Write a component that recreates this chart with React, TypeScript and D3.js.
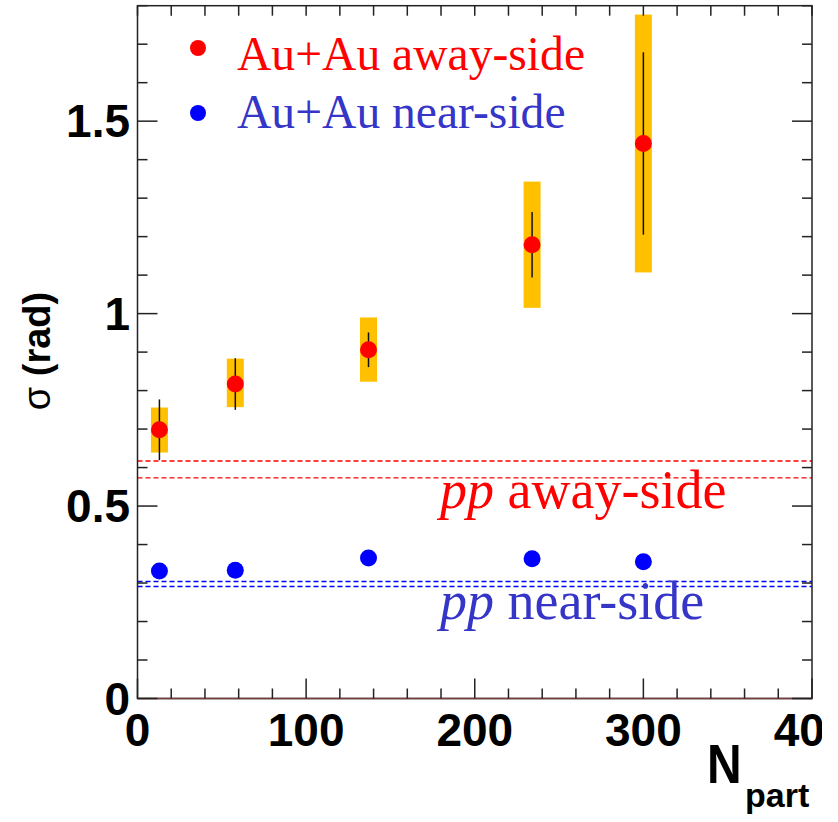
import React from "react";
import * as d3 from "d3";

// Centrality (number of participants)
const npart = [13, 58, 137, 234, 300];
// Au+Au away-side width and its uncertainties
const awaySigma = [0.698, 0.817, 0.906, 1.179, 1.442];
const awayStat = [0.079, 0.067, 0.045, 0.085, 0.237];
const awaySysLow = [0.059, 0.06, 0.083, 0.164, 0.335];
const awaySysHigh = [0.058, 0.066, 0.084, 0.164, 0.335];
// Au+Au near-side width
const nearSigma = [0.331, 0.333, 0.365, 0.363, 0.355];
// p+p reference bands (lower / upper edge)
const ppAway = [0.573, 0.617];
const ppNear = [0.291, 0.304];

const xTickLabels = ["0", "100", "200", "300", "400"];
const yTickLabels = ["0", "0.5", "1", "1.5"];
const legendLabels = ["Au+Au away-side", "Au+Au near-side"];

const W = 838;
const H = 822;
const left = 137.5;
const right = 812;
const top = 5.7;
const bottom = 698.5;

const RED = "#ff0000";
const BLUE = "#0000ff";
const BLUE_TEXT = "#3535c8";
const YELLOW = "#ffc000";
const AXIS = "#222";

export default function App() {
  const x = d3.scaleLinear().domain([0, 400]).range([left, right]);
  const y = d3.scaleLinear().domain([0, 1.8]).range([bottom, top]);

  const xMinor = d3.range(0, 401, 20);
  const yMinor = d3.range(0, 1.8001, 0.1).map((v) => +v.toFixed(2));
  const isMajorX = (v: number) => v % 100 === 0;
  const isMajorY = (v: number) => Math.abs(v * 2 - Math.round(v * 2)) < 1e-6;

  const sans = "'Liberation Sans', Arial, Helvetica, sans-serif";
  const serif = "'Liberation Serif', 'Times New Roman', serif";
  const boxW = 17;

  return (
    <svg
      width={W}
      height={H}
      style={{ position: "absolute", left: 0, top: 0, background: "#fff" }}
    >
      <defs>
        <clipPath id="canvasClip">
          <rect x={0} y={0} width={822} height={H} />
        </clipPath>
      </defs>

      {/* p+p reference lines */}
      {ppAway.map((v, i) => (
        <line key={"pa" + i} x1={left} x2={right} y1={y(v)} y2={y(v)}
          stroke={RED} strokeWidth={1.3} strokeDasharray="5,3" />
      ))}
      {ppNear.map((v, i) => (
        <line key={"pn" + i} x1={left} x2={right} y1={y(v)} y2={y(v)}
          stroke={BLUE} strokeWidth={1.3} strokeDasharray="5,3" />
      ))}

      {/* systematic boxes */}
      {npart.map((n, i) => (
        <rect key={"sys" + i}
          x={x(n) - boxW / 2}
          width={boxW}
          y={y(awaySigma[i] + awaySysHigh[i])}
          height={y(awaySigma[i] - awaySysLow[i]) - y(awaySigma[i] + awaySysHigh[i])}
          fill={YELLOW} />
      ))}
      {/* statistical error bars */}
      {npart.map((n, i) => (
        <line key={"stat" + i}
          x1={x(n)} x2={x(n)}
          y1={y(awaySigma[i] + awayStat[i])}
          y2={y(awaySigma[i] - awayStat[i])}
          stroke="#111" strokeWidth={1.5} />
      ))}
      {/* markers */}
      {npart.map((n, i) => (
        <circle key={"aw" + i} cx={x(n)} cy={y(awaySigma[i])} r={8.5} fill={RED} />
      ))}
      {npart.map((n, i) => (
        <circle key={"nr" + i} cx={x(n)} cy={y(nearSigma[i])} r={8.5} fill={BLUE} />
      ))}

      {/* frame */}
      <rect x={left} y={top} width={right - left} height={bottom - top}
        fill="none" stroke={AXIS} strokeWidth={1.5} />
      <line x1={left} x2={right} y1={bottom} y2={bottom} stroke="#7a3c3c" strokeWidth={1.6} />

      {/* x ticks: bottom and top */}
      {xMinor.map((v) => (
        <g key={"xt" + v}>
          <line x1={x(v)} x2={x(v)} y1={bottom} y2={bottom - (isMajorX(v) ? 20 : 10)}
            stroke={AXIS} strokeWidth={1.5} />
          <line x1={x(v)} x2={x(v)} y1={top} y2={top + 10}
            stroke={AXIS} strokeWidth={1.5} />
        </g>
      ))}
      {/* y ticks: left and right */}
      {yMinor.map((v) => (
        <g key={"yt" + v}>
          <line x1={left} x2={left + (isMajorY(v) ? 20 : 10)} y1={y(v)} y2={y(v)}
            stroke={AXIS} strokeWidth={1.5} />
          <line x1={right} x2={right - (isMajorY(v) ? 20 : 10)} y1={y(v)} y2={y(v)}
            stroke={AXIS} strokeWidth={1.5} />
        </g>
      ))}

      {/* tick labels */}
      <g clipPath="url(#canvasClip)">
        {xTickLabels.map((t) => (
          <text key={"xl" + t} x={x(+t)} y={746} textAnchor="middle"
            fontFamily={sans} fontWeight="bold" fontSize={46} fill="#000">{t}</text>
        ))}
      </g>
      {yTickLabels.map((t) => (
        <text key={"yl" + t} x={130} y={y(+t) + 16} textAnchor="end"
          fontFamily={sans} fontWeight="bold" fontSize={46} fill="#000">{t}</text>
      ))}

      {/* axis titles */}
      <g transform="translate(707,783) scale(1,1.15)">
        <text x={0} y={0} fontFamily={sans} fontWeight="bold" fontSize={48} fill="#000">N</text>
      </g>
      <text x={745} y={807} fontFamily={sans} fontWeight="bold" fontSize={34} fill="#000">part</text>
      <text transform="translate(50,351) rotate(-90)" textAnchor="middle"
        fontFamily={sans} fontSize={38} fill="#000">
        <tspan>σ </tspan>
        <tspan fontWeight="bold">(rad)</tspan>
      </text>

      {/* legend */}
      <circle cx={198} cy={48} r={8} fill={RED} />
      <text x={237} y={70} fontFamily={serif} fontSize={47.6} fill={RED}>{legendLabels[0]}</text>
      <circle cx={198} cy={113} r={8} fill={BLUE} />
      <text x={237} y={128} fontFamily={serif} fontSize={47.6} fill={BLUE_TEXT}>{legendLabels[1]}</text>

      {/* p+p labels */}
      <text x={440} y={508} fontFamily={serif} fontSize={54} fill={RED}>
        <tspan fontStyle="italic">pp</tspan> away-side
      </text>
      <text x={440} y={619} fontFamily={serif} fontSize={54} fill={BLUE_TEXT}>
        <tspan fontStyle="italic">pp</tspan> near-side
      </text>
    </svg>
  );
}
